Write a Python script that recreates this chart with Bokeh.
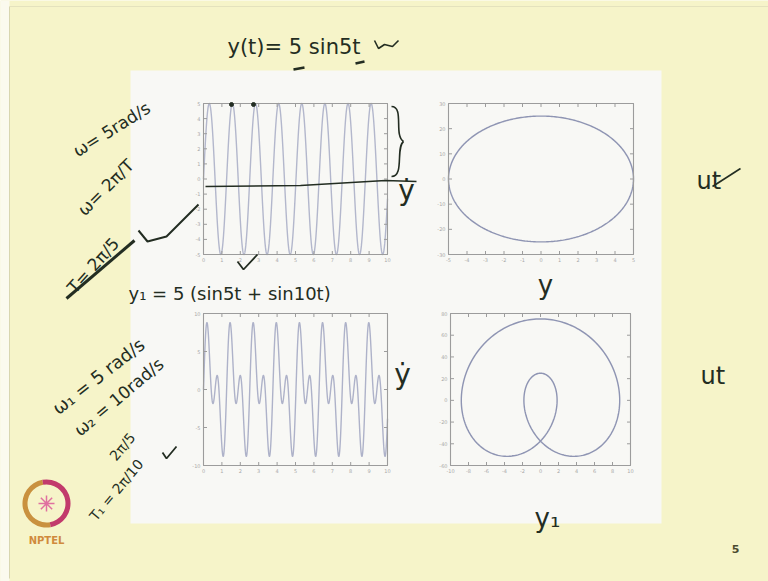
import numpy as np
from bokeh.plotting import figure
from bokeh.models import Range1d
from bokeh.core.properties import value
from bokeh.embed import file_html
from bokeh.resources import INLINE

# ---- signal parameters -------------------------------------------------
t_start, t_end = 0.0, 10.0
amp = 5.0            # y(t) = 5 sin 5t
omega = 5.0
amp1 = 5.0           # y1(t) = 5 (sin 5t + sin 10t)
omega1, omega2 = 5.0, 10.0
n_samples = 3001

# ---- axis limits and ticks of the four panels ---------------------------
tl_xlim, tl_ylim = (0, 10), (-5, 5)
tl_xticks = list(range(0, 11))
tl_yticks = [-5, -4, -3, -2, -1, 0, 1, 2, 3, 4, 5]

tr_xlim, tr_ylim = (-5, 5), (-30, 30)
tr_xticks = [-5, -4, -3, -2, -1, 0, 1, 2, 3, 4, 5]
tr_yticks = [-30, -20, -10, 0, 10, 20, 30]

bl_xlim, bl_ylim = (0, 10), (-10, 10)
bl_xticks = list(range(0, 11))
bl_yticks = [-10, -5, 0, 5, 10]

br_xlim, br_ylim = (-10, 10), (-60, 80)
br_xticks = [-10, -8, -6, -4, -2, 0, 2, 4, 6, 8, 10]
br_yticks = [-60, -40, -20, 0, 20, 40, 60, 80]

# ---- curves ------------------------------------------------------------
t = np.linspace(t_start, t_end, n_samples)
y = amp * np.sin(omega * t)
y_dot = amp * omega * np.cos(omega * t)
y1 = amp1 * (np.sin(omega1 * t) + np.sin(omega2 * t))
y1_dot = amp1 * (omega1 * np.cos(omega1 * t) + omega2 * np.cos(omega2 * t))

W, H = 768, 581
INK = "#232d22"
HAND = value("DejaVu Sans")


def Y(sy):
    """slide pixel row (top = 0) -> plot y"""
    return H - sy


p = figure(width=W, height=H, x_range=Range1d(0, W), y_range=Range1d(0, H),
           x_axis_location=None, y_axis_location=None, min_border=0,
           toolbar_location=None, output_backend="svg")
p.grid.visible = False
p.outline_line_color = None
p.background_fill_color = "#f6f4c9"
p.border_fill_color = "#f6f4c9"

# slide edge and white content panel
p.quad(left=[0], right=[9], bottom=[0], top=[H], fill_color="#fbfaee", line_color=None)
p.segment(x0=[9], y0=[Y(6)], x1=[9], y1=[Y(578)], line_color="#d8d6b0", line_width=1)
p.segment(x0=[9], y0=[Y(6)], x1=[W], y1=[Y(6)], line_color="#e4e2bd", line_width=1)
p.quad(left=[130], right=[661], bottom=[Y(523)], top=[Y(70)],
       fill_color="#f8f8f5", line_color=None)


def panel(name, xlim, ylim, xticks, yticks, box, xs, ys, color):
    L, R, T, B = box
    kx = (R - L) / (xlim[1] - xlim[0])
    xs0 = xlim[0] - L / kx
    ky = (B - T) / (ylim[1] - ylim[0])
    ys0 = ylim[0] - (H - B) / ky
    p.extra_x_ranges[name + "_x"] = Range1d(xs0, xs0 + W / kx)
    p.extra_y_ranges[name + "_y"] = Range1d(ys0, ys0 + H / ky)
    kw = dict(x_range_name=name + "_x", y_range_name=name + "_y")

    p.line(xs, ys, line_color=color, line_width=1.4, **kw)
    p.quad(left=[xlim[0]], right=[xlim[1]], bottom=[ylim[0]], top=[ylim[1]],
           fill_color=None, line_color="#9c9c9c", line_width=1.1, **kw)
    tx, ty = 3.5 / kx, 3.5 / ky
    n = len(xticks)
    p.segment(x0=xticks, y0=[ylim[0]] * n, x1=xticks, y1=[ylim[0] + ty] * n,
              line_color="#9c9c9c", **kw)
    p.segment(x0=xticks, y0=[ylim[1]] * n, x1=xticks, y1=[ylim[1] - ty] * n,
              line_color="#9c9c9c", **kw)
    m = len(yticks)
    p.segment(x0=[xlim[0]] * m, y0=yticks, x1=[xlim[0] + tx] * m, y1=yticks,
              line_color="#9c9c9c", **kw)
    p.segment(x0=[xlim[1]] * m, y0=yticks, x1=[xlim[1] - tx] * m, y1=yticks,
              line_color="#9c9c9c", **kw)
    p.text(x=xticks, y=[ylim[0]] * n, text=[str(v) for v in xticks], y_offset=3,
           text_align="center", text_baseline="top", text_font_size="5px",
           text_color="#a8a8a8", text_font=value("DejaVu Sans"), **kw)
    p.text(x=[xlim[0]] * m, y=yticks, text=[str(v) for v in yticks], x_offset=-3,
           text_align="right", text_baseline="middle", text_font_size="5px",
           text_color="#a8a8a8", text_font=value("DejaVu Sans"), **kw)


panel("tl", tl_xlim, tl_ylim, tl_xticks, tl_yticks, (203, 387, 103, 254), t, y, "#b3b7cc")
panel("tr", tr_xlim, tr_ylim, tr_xticks, tr_yticks, (448, 633, 103, 254), y, y_dot, "#8f95b3")
panel("bl", bl_xlim, bl_ylim, bl_xticks, bl_yticks, (203, 387, 313, 465), t, y1, "#aeb2c9")
panel("br", br_xlim, br_ylim, br_xticks, br_yticks, (450, 630, 313, 465), y1, y1_dot, "#8f95b3")

# ---- handwritten notes --------------------------------------------------
def note(x, sy, txt, size, angle=0.0, align="left"):
    p.text(x=[x], y=[Y(sy)], text=[txt], angle=np.deg2rad(angle),
           text_font=HAND, text_font_size=f"{size}px", text_color=INK,
           text_align=align, text_baseline="middle")


note(227, 46, "y(t)= 5 sin5t", 21)
p.line(x=[374, 378, 384, 392, 398], y=[Y(40), Y(48), Y(44), Y(46), Y(40)],
       line_color=INK, line_width=1.6)
p.segment(x0=[293, 355], y0=[Y(69), Y(63)], x1=[304, 364], y1=[Y(67), Y(61)],
          line_color=INK, line_width=2.5)

note(74, 152, "ω= 5rad/s", 17, 32)
note(80, 212, "ω= 2π/T", 17, 45)
note(70, 290, "T= 2π/5", 17, 48)
p.line(x=[66, 134], y=[Y(298), Y(240)], line_color=INK, line_width=3)
p.line(x=[138, 147, 166, 198], y=[Y(230), Y(241), Y(236), Y(204)],
       line_color=INK, line_width=2)

note(128, 293, "y₁ = 5 (sin5t + sin10t)", 18)
p.line(x=[237, 243, 257], y=[Y(261), Y(269), Y(254)], line_color=INK, line_width=1.8)

# marks on the first panel
p.scatter(x=[231, 253], y=[Y(104), Y(104)], size=4, color=INK)
p.line(x=[205, 300, 385, 416], y=[Y(186), Y(185), Y(180), Y(181)], line_color=INK, line_width=1.6)
p.bezier(x0=[391, 403], y0=[Y(106), Y(141)], x1=[403, 391], y1=[Y(141), Y(176)],
         cx0=[404, 395], cy0=[Y(106), Y(147)], cx1=[393, 404], cy1=[Y(135), Y(176)],
         line_color=INK, line_width=1.6)

note(406, 190, "ẏ", 28, 0, "center")
note(402, 374, "ẏ", 28, 0, "center")
note(545, 284, "y", 26, 0, "center")
note(547, 517, "y₁", 26, 0, "center")
note(696, 180, "ut", 24)
p.line(x=[712, 740], y=[Y(186), Y(168)], line_color=INK, line_width=1.6)
note(700, 375, "ut", 24)

note(54, 410, "ω₁ = 5 rad/s", 18, 38)
note(76, 432, "ω₂ = 10rad/s", 17, 40)
note(112, 458, "2π/5", 14, 50)
note(92, 518, "T₁ = 2π/10", 14, 50)
p.line(x=[162, 166, 176], y=[Y(452), Y(458), Y(446)], line_color=INK, line_width=1.8)

# ---- NPTEL mark and page number ----------------------------------------
p.annular_wedge(x=[46], y=[Y(503)], inner_radius=19, outer_radius=24,
                start_angle=np.deg2rad(100), end_angle=np.deg2rad(280),
                fill_color="#c9913f", line_color=None)
p.annular_wedge(x=[46], y=[Y(503)], inner_radius=19, outer_radius=24,
                start_angle=np.deg2rad(-80), end_angle=np.deg2rad(100),
                fill_color="#c23a6c", line_color=None)
p.scatter(x=[46], y=[Y(503)], marker="asterisk", size=16, line_color="#e070a0", line_width=1.5)
p.text(x=[46], y=[Y(540)], text=["NPTEL"], text_align="center", text_baseline="middle",
       text_font=value("DejaVu Sans"), text_font_size="10px", text_font_style="bold",
       text_color="#d08a3c")
p.text(x=[735], y=[Y(548)], text=["5"], text_align="center", text_baseline="middle",
       text_font=value("DejaVu Sans"), text_font_size="11px", text_font_style="bold",
       text_color="#4a4a30")

open("out.html", "w").write(file_html(p, INLINE))
